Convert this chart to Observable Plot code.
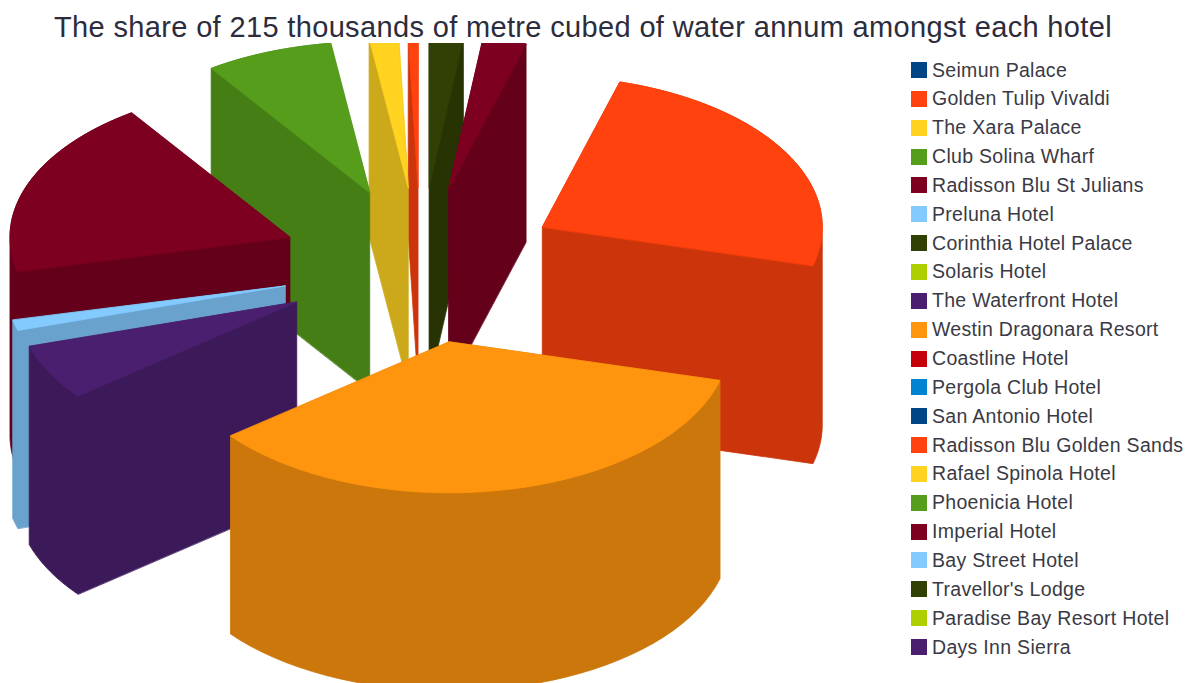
<!DOCTYPE html>
<html>
<head>
<meta charset="utf-8">
<script src="https://cdn.jsdelivr.net/npm/d3@7"></script>
<script src="https://cdn.jsdelivr.net/npm/@observablehq/plot@0.6"></script>
<style>
  html, body { margin: 0; background: #fff; }
  #page { position: relative; width: 1190px; height: 683px; overflow: hidden; font-family: "Liberation Sans", Arial, sans-serif; }
  #title { position: absolute; left: 54px; top: 10px; font-size: 29px; letter-spacing: 0.35px; line-height: 34px; color: #2c2c3c; white-space: nowrap; }
  #chart { position: absolute; left: 0; top: 43px; }
  #legend { position: absolute; left: 911px; top: 0; }
  .row { position: absolute; left: 0; display: flex; align-items: center; height: 20px; white-space: nowrap; font-size: 19.5px; letter-spacing: 0.3px; color: #3a3a44; }
  .swatch { width: 16px; height: 16px; margin-right: 5px; flex: none; }
</style>
</head>
<body>
<div id="page">
  <div id="title"></div>
  <div id="chart"></div>
  <div id="legend"></div>
</div>
<script>
const chartTitle = "The share of 215 thousands of metre cubed of water annum amongst each hotel";

const hotels = [
  "Seimun Palace", "Golden Tulip Vivaldi", "The Xara Palace", "Club Solina Wharf",
  "Radisson Blu St Julians", "Preluna Hotel", "Corinthia Hotel Palace", "Solaris Hotel",
  "The Waterfront Hotel", "Westin Dragonara Resort", "Coastline Hotel", "Pergola Club Hotel",
  "San Antonio Hotel", "Radisson Blu Golden Sands", "Rafael Spinola Hotel", "Phoenicia Hotel",
  "Imperial Hotel", "Bay Street Hotel", "Travellor's Lodge", "Paradise Bay Resort Hotel",
  "Days Inn Sierra"
];

// Annual water use, thousands of cubic metres
const waterUse = [
  0, 1.2, 3.6, 15.8,
  41.0, 2.4, 0, 0,
  12.8, 75.6, 0, 0,
  0, 53.0, 0, 0,
  5.4, 0, 4.2, 0,
  0
];

const palette = [
  "#004586", "#ff420e", "#ffd320", "#579d1c", "#7e0021", "#83caff",
  "#314004", "#aecf00", "#4b1f6f", "#ff950e", "#c5000b", "#0084d1"
];

// Oblique view of the exploded pie, in chart units
const view = {cx: 420, cy: 265, rx: 280, ry: 151, explodeX: 140, explodeY: 78, depth: 198};
// Hotels painted from the back of the pie to the front
const paintOrder = [1, 2, 18, 16, 3, 4, 5, 8, 13, 9];

const total = d3.sum(waterUse);
const colorOf = (i) => palette[i % palette.length];
const wallColor = (c) => {
  const {r, g, b} = d3.rgb(c);
  return d3.rgb(r * 0.8, g * 0.8, b * 0.8).formatHex();
};

// The pie runs anticlockwise from twelve o'clock; angles are in degrees, clockwise from east
const cumulative = d3.cumsum(waterUse);
const slices = hotels.map((name, i) => {
  const end = 270 - (cumulative[i] / total) * 360;
  const start = end + (waterUse[i] / total) * 360;
  const mid = ((start + end) / 2) * Math.PI / 180;
  const ax = view.cx + view.explodeX * Math.cos(mid);
  const ay = view.cy + view.explodeY * Math.sin(mid);
  const rim = d3.range(0, 41).map((k) => {
    const t = (end + (start - end) * k / 40) * Math.PI / 180;
    return {x: ax + view.rx * Math.cos(t), y: ay + view.ry * Math.sin(t)};
  });
  return {name, i, apex: {x: ax, y: ay}, rim};
});

const polygon = (points, fill) =>
  Plot.line(points, {x: "x", y: "y", fill, stroke: fill, strokeWidth: 0.8, curve: "linear-closed", clip: true});

// Each wedge is convex, so its solid outline is the hull of the top face and the same face one depth lower
const marks = paintOrder.flatMap((i) => {
  const {apex, rim} = slices[i];
  const face = [apex, ...rim];
  const solid = d3.polygonHull(face.flatMap((p) => [[p.x, p.y], [p.x, p.y + view.depth]]))
    .map(([x, y]) => ({x, y}));
  return [polygon(solid, wallColor(colorOf(i))), polygon(face, colorOf(i))];
});

document.getElementById("title").textContent = chartTitle;

document.getElementById("chart").append(Plot.plot({
  width: 890,
  height: 640,
  margin: 0,
  x: {domain: [0, 890], axis: null},
  y: {domain: [683, 43], axis: null},
  marks
}));

const legend = d3.select("#legend");
hotels.forEach((name, i) => {
  const row = legend.append("div").attr("class", "row").style("top", `${60 + i * 28.85}px`);
  row.append("div").attr("class", "swatch").style("background", colorOf(i));
  row.append("div").text(name);
});
</script>
</body>
</html>
